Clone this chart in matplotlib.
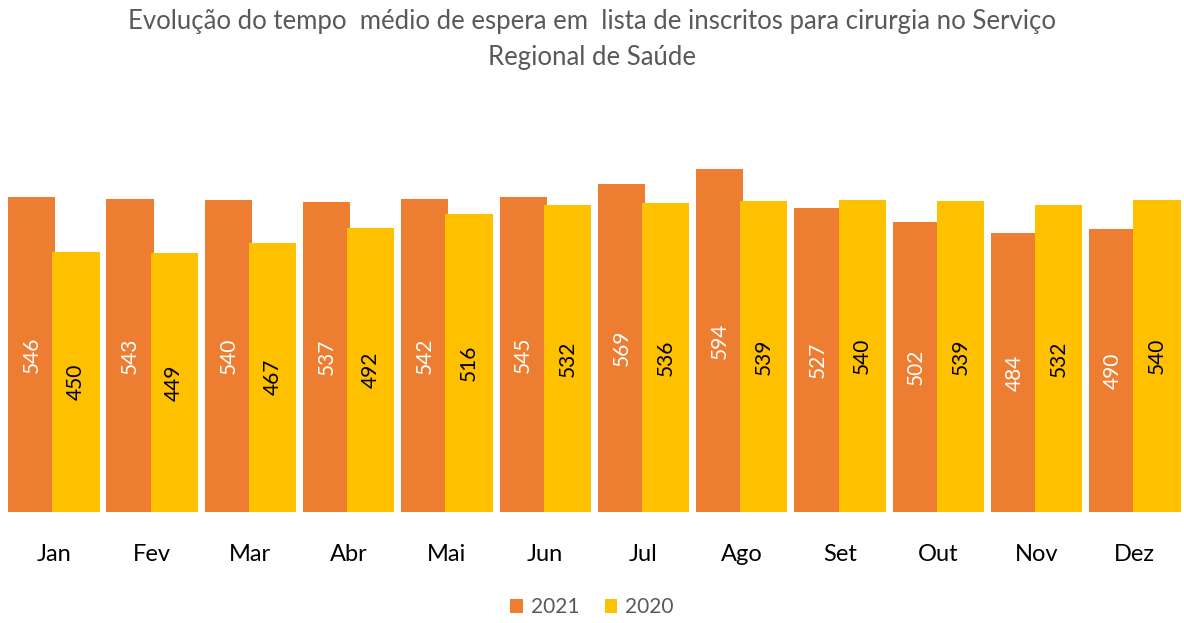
import numpy as np
import matplotlib.pyplot as plt

months = ["Jan", "Fev", "Mar", "Abr", "Mai", "Jun", "Jul", "Ago", "Set", "Out", "Nov", "Dez"]
v2021 = [546, 543, 540, 537, 542, 545, 569, 594, 527, 502, 484, 490]
v2020 = [450, 449, 467, 492, 516, 532, 536, 539, 540, 539, 532, 540]

plt.rcParams['font.family'] = ['Lato', 'DejaVu Sans']

fig = plt.figure(figsize=(11.84, 6.23), dpi=100)
ax = fig.add_axes([0.004, 0.178, 0.996, 0.556])

x = np.arange(len(months))
w = 0.48
off = 0.225
b1 = ax.bar(x - off, v2021, w, color="#ED7D31", label="2021")
b2 = ax.bar(x + off, v2020, w, color="#FFC000", label="2020")

# value labels inside the bars
for xi, v in zip(x, v2021):
    ax.text(xi - off, v / 2, str(v), rotation=90, ha="center", va="center",
            color="white", fontsize=15)
for xi, v in zip(x, v2020):
    ax.text(xi + off, v / 2, str(v), rotation=90, ha="center", va="center",
            color="black", fontsize=15)

ax.set_xlim(-0.5, 11.5)
ax.set_ylim(0, 600)
ax.set_xticks(x)
ax.set_xticklabels(months, fontsize=17)
ax.tick_params(axis="x", length=0, pad=23)
ax.set_yticks([])
for s in ["top", "right", "left", "bottom"]:
    ax.spines[s].set_visible(False)

fig.text(0.5, 0.985, "Evolução do tempo  médio de espera em  lista de inscritos para cirurgia no Serviço\nRegional de Saúde",
         ha="center", va="top", fontsize=18.5, color="#595959", linespacing=1.55)

leg = fig.legend(handles=[b1, b2], loc="center", bbox_to_anchor=(0.5, 0.025),
                 ncol=2, frameon=False, fontsize=15, handlelength=0.6, handleheight=0.6,
                 columnspacing=1.2, handletextpad=0.4)
for t in leg.get_texts():
    t.set_color("#595959")

fig.savefig("out.png", dpi=100)
